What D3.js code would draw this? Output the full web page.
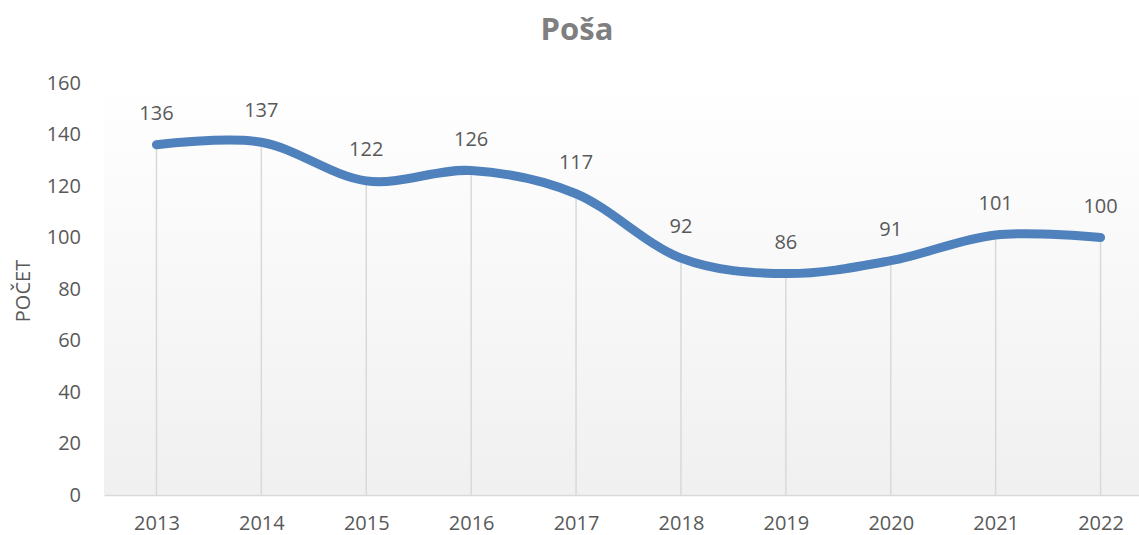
<!DOCTYPE html>
<html>
<head>
<meta charset="utf-8">
<script src="https://cdn.jsdelivr.net/npm/d3@7"></script>
<style>
  body { margin: 0; background: #fff; overflow: hidden; }
  text { font-family: "Open Sans", sans-serif; }
</style>
</head>
<body>
<div id="chart"></div>
<script>
// chart data
const years = ["2013", "2014", "2015", "2016", "2017", "2018", "2019", "2020", "2021", "2022"];
const counts = [136, 137, 122, 126, 117, 92, 86, 91, 101, 100];
const yTicks = [0, 20, 40, 60, 80, 100, 120, 140, 160];

var width = 1139, height = 535;
var margin = { top: 83, right: -14, bottom: 40, left: 104 };

var svg = d3.select("#chart")
  .append("svg")
  .attr("width", width)
  .attr("height", height);

var defs = svg.append("defs");
var grad = defs.append("linearGradient")
  .attr("id", "bg")
  .attr("x1", 0).attr("y1", 0).attr("x2", 0).attr("y2", 1);
grad.append("stop").attr("offset", "0%").attr("stop-color", "#ffffff");
grad.append("stop").attr("offset", "100%").attr("stop-color", "#f0f0f0");

var x = d3.scalePoint()
  .domain(years)
  .range([margin.left, width - margin.right])
  .padding(0.5);

var y = d3.scaleLinear()
  .domain([0, 160])
  .range([height - margin.bottom, margin.top]);

// plot area background
svg.append("rect")
  .attr("x", margin.left)
  .attr("y", y(160))
  .attr("width", width - margin.left)
  .attr("height", y(0) - y(160))
  .attr("fill", "url(#bg)");

// title
svg.append("text")
  .attr("x", 577)
  .attr("y", 40)
  .attr("text-anchor", "middle")
  .style("font-size", "31px")
  .style("font-weight", "bold")
  .style("fill", "#7f7f7f")
  .text("Poša");

// y axis label
svg.append("text")
  .attr("transform", "translate(30," + (y(80) + 2) + ") rotate(-90)")
  .attr("text-anchor", "middle")
  .style("font-size", "20px")
  .style("fill", "#595959")
  .text("POČET");

// drop lines
svg.selectAll(".drop")
  .data(counts)
  .enter()
  .append("line")
  .attr("class", "drop")
  .attr("x1", (d, i) => x(years[i]))
  .attr("x2", (d, i) => x(years[i]))
  .attr("y1", d => y(d))
  .attr("y2", y(0))
  .attr("stroke", "#d9d9d9")
  .attr("stroke-width", 1.5);

// y axis (labels only)
var yAxis = svg.append("g")
  .attr("transform", "translate(" + margin.left + ",0)")
  .call(d3.axisLeft(y).tickValues(yTicks).tickSize(0).tickPadding(23));
yAxis.select(".domain").remove();
yAxis.selectAll("text")
  .style("font-size", "20px")
  .style("fill", "#595959")
  .style("font-family", "'Open Sans', sans-serif");

// x axis
var xAxis = svg.append("g")
  .attr("transform", "translate(0," + y(0) + ")")
  .call(d3.axisBottom(x).tickSize(0).tickPadding(21));
xAxis.select(".domain")
  .attr("stroke", "#d9d9d9")
  .attr("stroke-width", 1.5);
xAxis.selectAll("text")
  .style("font-size", "20px")
  .style("fill", "#595959")
  .style("font-family", "'Open Sans', sans-serif");

// smoothed line
var line = d3.line()
  .x((d, i) => x(years[i]))
  .y(d => y(d))
  .curve(d3.curveCardinal.tension(0));

svg.append("path")
  .datum(counts)
  .attr("d", line)
  .attr("fill", "none")
  .attr("stroke", "#4f81bd")
  .attr("stroke-width", 9)
  .attr("stroke-linecap", "round")
  .attr("stroke-linejoin", "round");

// data labels
svg.selectAll(".label")
  .data(counts)
  .enter()
  .append("text")
  .attr("class", "label")
  .attr("x", (d, i) => x(years[i]))
  .attr("y", d => y(d) - 25)
  .attr("text-anchor", "middle")
  .style("font-size", "20px")
  .style("fill", "#595959")
  .text(d => d);
</script>
</body>
</html>
